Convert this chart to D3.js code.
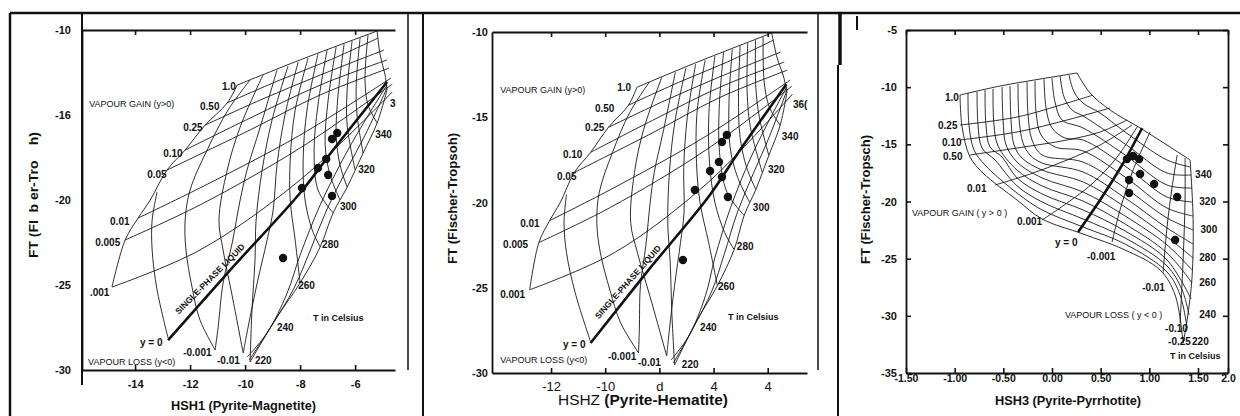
<!DOCTYPE html>
<html>
<head>
<meta charset="utf-8">
<script src="https://cdn.jsdelivr.net/npm/d3@7/dist/d3.min.js"></script>
<style>
  body { margin: 0; background: #fff; }
  svg { display: block; }
  text { font-family: "Liberation Sans", Arial, sans-serif; fill: #111; }
</style>
</head>
<body>
<svg id="chart"></svg>
<script>
// ---------- panel 1 : HSH1 (pyrite-magnetite) ----------
var p1XTicks = [-14, -12, -10, -8, -6];
var p1XLabels = ["-14", "-12", "-10", "-8", "-6"];
var p1YTicks = [-10, -15, -20, -25, -30];
var p1YLabels = ["-10", "-16", "-20", "-25", "-30"];

var p1Dots = [[-6.65,-16.06],[-6.84,-16.41],[-7.05,-17.59],[-7.35,-18.12],[-6.98,-18.53],[-7.93,-19.29],[-6.84,-19.76],[-8.62,-23.41]];

var p1Left = [[-10.29,-13.24],[-10.65,-14.29],[-11.45,-15.59],[-12.18,-17.06],[-12.84,-18.24],[-13.45,-20.0],[-13.89,-21.06],[-14.36,-22.35],[-14.84,-25.12]];
// vapour gain lines 1.0, 0.50, 0.25, 0.10, 0.05, 0.01, 0.005, 0.001
var p1Gain = [
  [[-10.29,-13.24],[-8.0,-11.76],[-5.2,-10.06]],
  [[-10.65,-14.29],[-8.73,-12.94],[-6.91,-11.76],[-5.16,-10.47]],
  [[-11.45,-15.59],[-9.45,-14.12],[-7.27,-12.65],[-4.95,-11.18]],
  [[-12.18,-17.06],[-9.82,-15.18],[-7.27,-13.24],[-4.84,-11.76]],
  [[-12.84,-18.24],[-9.82,-15.88],[-7.27,-13.82],[-4.76,-12.24]],
  [[-13.89,-21.06],[-11.64,-19.29],[-8.0,-16.18],[-4.69,-12.82]],
  [[-14.36,-22.35],[-11.64,-20.29],[-8.0,-16.94],[-4.65,-13.18]],
  [[-14.84,-25.12],[-11.64,-22.94],[-8.0,-18.82],[-4.65,-13.65]]
];
var p1Zero = [[-12.80,-28.24],[-10.44,-23.94],[-8.0,-19.59],[-6.80,-17.06],[-4.84,-13.06]];
// vapour loss side: outer edge and the steep lines next to it
var p1Loss = [
  [[-9.82,-29.53],[-8.84,-26.88],[-8.0,-24.88],[-7.27,-22.76],[-6.80,-20.76],[-6.29,-19.24],[-5.71,-17.24],[-5.20,-15.47],[-4.84,-13.53]],
  [[-9.85,-29.41],[-9.02,-27.35],[-8.22,-25.18],[-7.64,-23.0],[-7.02,-20.53],[-6.33,-18.29],[-5.60,-16.06],[-4.84,-13.41]],
  [[-9.93,-29.24],[-9.20,-27.82],[-8.47,-25.47],[-8.0,-23.24],[-7.27,-20.29],[-6.36,-17.35],[-5.45,-14.82],[-4.84,-13.24]]
];
var p1Iso = [
  [[-13.20,-19.53],[-13.38,-21.18],[-13.38,-22.94],[-13.20,-25.29],[-12.80,-28.12]],
  [[-9.82,-12.94],[-10.62,-14.71],[-11.38,-17.06],[-12.0,-19.41],[-12.18,-21.18],[-12.15,-22.94],[-11.93,-25.12],[-11.64,-27.06],[-11.09,-28.82]],
  [[-9.35,-12.65],[-10.18,-15.71],[-10.65,-18.24],[-10.95,-21.18],[-10.80,-22.94],[-10.44,-25.88],[-10.07,-29.0]],
  [[-8.84,-12.35],[-9.45,-15.71],[-9.93,-18.24],[-10.18,-20.0],[-10.47,-22.53],[-10.80,-24.88],[-10.98,-27.47],[-11.09,-28.82]],
  [[-8.44,-12.12],[-9.02,-15.29],[-9.38,-18.24],[-9.60,-21.18],[-9.64,-23.53],[-9.75,-26.47],[-9.82,-29.53]],
  [[-8.07,-11.88],[-8.55,-15.0],[-8.84,-17.94],[-8.98,-20.59],[-9.20,-22.35],[-9.56,-24.88],[-9.89,-27.47],[-10.07,-29.0]],
  [[-7.71,-11.65],[-8.18,-14.71],[-8.36,-17.65],[-8.36,-20.0],[-8.18,-22.35],[-8.0,-24.88]],
  [[-7.35,-11.41],[-7.75,-14.71],[-7.89,-17.65],[-7.82,-20.0],[-7.56,-21.76],[-7.27,-22.76]],
  [[-7.02,-11.18],[-7.35,-14.41],[-7.49,-17.06],[-7.35,-19.41],[-6.80,-20.76]],
  [[-6.69,-11.0],[-6.98,-14.12],[-7.09,-16.76],[-6.91,-18.53],[-6.55,-20.0]],
  [[-6.40,-10.82],[-6.62,-13.82],[-6.69,-16.18],[-6.55,-17.94],[-6.29,-19.24]],
  [[-6.11,-10.65],[-6.29,-13.53],[-6.29,-15.59],[-6.0,-18.24]],
  [[-5.82,-10.47],[-5.96,-13.24],[-5.93,-15.0],[-5.71,-17.24]],
  [[-5.53,-10.29],[-5.64,-12.94],[-5.53,-14.41],[-5.20,-15.47]],
  [[-5.20,-10.06],[-5.09,-11.47],[-4.91,-12.65],[-4.84,-13.53]]
];
var p1Notes = [
  ["VAPOUR GAIN (y>0)", -15.67, -14.53, "zone"],
  ["1.0", -10.84, -13.53, "num"], ["0.50", -11.64, -14.71, "num"], ["0.25", -12.25, -15.94, "num"],
  ["0.10", -12.98, -17.47, "num"], ["0.05", -13.56, -18.71, "num"], ["0.01", -14.91, -21.47, "num"],
  ["0.005", -15.45, -22.71, "num"], [".001", -15.64, -25.65, "num"],
  ["y = 0", -13.82, -28.59, "num"], ["-0.001", -12.25, -29.18, "num"], ["-0.01", -11.02, -29.65, "num"],
  ["220", -9.64, -29.65, "num"], ["240", -8.84, -27.71, "num"], ["260", -8.07, -25.24, "num"],
  ["280", -7.20, -22.82, "num"], ["300", -6.55, -20.59, "num"], ["320", -5.89, -18.41, "num"],
  ["340", -5.27, -16.35, "num"], ["3", -4.73, -14.53, "num"],
  ["T in Celsius", -7.53, -27.12, "unit"],
  ["VAPOUR LOSS (y<0)", -15.71, -29.71, "zone"],
  ["SINGLE-PHASE LIQUID", -11.2, -24.76, "sp"]
];

// ---------- panel 2 : HSH2 (pyrite-hematite) ----------
var p2XTicks = [-12, -10, -8, -6, -4];
var p2XLabels = ["-12", "-10", "d", "4", "4"];
var p2YTicks = [-10, -15, -20, -25, -30];
var p2YLabels = ["-10", "-15", "-20", "-25", "-30"];

var p2Dots = [[-5.51,-16.04],[-5.69,-16.45],[-5.80,-17.62],[-6.13,-18.15],[-5.69,-18.50],[-6.69,-19.27],[-5.47,-19.68],[-7.13,-23.37]];

var p2Left = [[-8.83,-13.24],[-9.14,-14.29],[-9.88,-15.59],[-10.54,-17.06],[-11.14,-18.24],[-11.66,-20.0],[-12.05,-21.06],[-12.45,-22.35],[-12.79,-25.12]];
var p2Gain = [
  [[-8.83,-13.24],[-6.59,-11.76],[-3.85,-10.06]],
  [[-9.14,-14.29],[-7.27,-12.94],[-5.49,-11.76],[-3.78,-10.47]],
  [[-9.88,-15.59],[-7.93,-14.12],[-5.80,-12.65],[-3.53,-11.18]],
  [[-10.54,-17.06],[-8.25,-15.18],[-5.77,-13.24],[-3.39,-11.76]],
  [[-11.14,-18.24],[-8.21,-15.88],[-5.74,-13.82],[-3.28,-12.24]],
  [[-12.05,-21.06],[-9.86,-19.29],[-6.35,-16.18],[-3.17,-12.82]],
  [[-12.45,-22.35],[-9.81,-20.29],[-6.30,-16.94],[-3.11,-13.18]],
  [[-12.79,-25.12],[-9.66,-22.94],[-6.20,-18.82],[-3.09,-13.65]]
];
var p2Zero = [[-10.54,-28.24],[-8.39,-23.94],[-6.15,-19.59],[-5.08,-17.06],[-3.31,-13.06]];
var p2Loss = [
  [[-7.44,-29.53],[-6.60,-26.88],[-5.86,-24.88],[-5.24,-22.76],[-4.87,-20.76],[-4.44,-19.24],[-3.96,-17.24],[-3.54,-15.47],[-3.29,-13.53]],
  [[-7.48,-29.41],[-6.75,-27.35],[-6.06,-25.18],[-5.60,-23.0],[-5.11,-20.53],[-4.53,-18.29],[-3.92,-16.06],[-3.29,-13.41]],
  [[-7.57,-29.24],[-6.91,-27.82],[-6.30,-25.47],[-5.95,-23.24],[-5.37,-20.29],[-4.62,-17.35],[-3.83,-14.82],[-3.30,-13.24]]
];
var p2Iso = [
  [[-11.43,-19.53],[-11.52,-21.18],[-11.43,-22.94],[-11.11,-25.29],[-10.55,-28.12]],
  [[-8.37,-12.94],[-9.09,-14.71],[-9.73,-17.06],[-10.22,-19.41],[-10.31,-21.18],[-10.18,-22.94],[-9.83,-25.12],[-9.43,-27.06],[-8.77,-28.82]],
  [[-7.91,-12.65],[-8.58,-15.71],[-8.92,-18.24],[-9.06,-21.18],[-8.81,-22.94],[-8.28,-25.88],[-7.73,-29.0]],
  [[-7.41,-12.35],[-7.84,-15.71],[-8.19,-18.24],[-8.34,-20.0],[-8.50,-22.53],[-8.70,-24.88],[-8.74,-27.47],[-8.77,-28.82]],
  [[-7.02,-12.12],[-7.43,-15.29],[-7.63,-18.24],[-7.69,-21.18],[-7.60,-23.53],[-7.54,-26.47],[-7.44,-29.53]],
  [[-6.66,-11.88],[-6.97,-15.0],[-7.10,-17.94],[-7.09,-20.59],[-7.22,-22.35],[-7.44,-24.88],[-7.63,-27.47],[-7.73,-29.0]],
  [[-6.31,-11.65],[-6.61,-14.71],[-6.63,-17.65],[-6.50,-20.0],[-6.18,-22.35],[-5.86,-24.88]],
  [[-5.95,-11.41],[-6.17,-14.71],[-6.15,-17.65],[-5.95,-20.0],[-5.59,-21.76],[-5.24,-22.76]],
  [[-5.63,-11.18],[-5.79,-14.41],[-5.78,-17.06],[-5.50,-19.41],[-4.87,-20.76]],
  [[-5.31,-11.0],[-5.43,-14.12],[-5.39,-16.76],[-5.11,-18.53],[-4.66,-20.0]],
  [[-5.02,-10.82],[-5.08,-13.82],[-5.02,-16.18],[-4.78,-17.94],[-4.44,-19.24]],
  [[-4.74,-10.65],[-4.76,-13.53],[-4.64,-15.59],[-4.20,-18.24]],
  [[-4.45,-10.47],[-4.44,-13.24],[-4.31,-15.0],[-3.96,-17.24]],
  [[-4.17,-10.29],[-4.13,-12.94],[-3.94,-14.41],[-3.54,-15.47]],
  [[-3.85,-10.06],[-3.66,-11.47],[-3.41,-12.65],[-3.29,-13.53]]
];
var p2Notes = [
  ["VAPOUR GAIN (y>0)", -13.88, -13.58, "zone"],
  ["1.0", -9.56, -13.46, "num"], ["0.50", -10.38, -14.69, "num"], ["0.25", -10.75, -15.81, "num"],
  ["0.10", -11.56, -17.39, "num"], ["0.05", -11.78, -18.68, "num"], ["0.01", -13.14, -21.44, "num"],
  ["0.005", -13.77, -22.67, "num"], ["0.001", -13.88, -25.60, "num"],
  ["y = 0", -11.56, -28.53, "num"], ["-0.001", -9.90, -29.24, "num"], ["-0.01", -8.79, -29.59, "num"],
  ["220", -7.17, -29.71, "num"], ["240", -6.50, -27.54, "num"], ["260", -5.84, -25.13, "num"],
  ["280", -5.14, -22.79, "num"], ["300", -4.55, -20.50, "num"], ["320", -3.99, -18.27, "num"],
  ["340", -3.48, -16.33, "num"], ["36(", -3.07, -14.46, "num"],
  ["T in Celsius", -5.47, -26.89, "unit"],
  ["VAPOUR LOSS (y<0)", -13.88, -29.41, "zone"],
  ["SINGLE-PHASE LIQUID", -9.08, -24.78, "sp"]
];

// ---------- panel 3 : HSH3 (pyrite-pyrrhotite) ----------
var p3XTicks = [-1.5, -1, -0.5, 0, 0.5, 1, 1.5, 2];
var p3XLabels = ["-1.50", "-1.00", "-0.50", "0.00", "0.50", "1.00", "1.50", "2.0"];
var p3YTicks = [-5, -10, -15, -20, -25, -30, -35];
var p3YLabels = ["-5", "-10", "-15", "-20", "-25", "-30", "-35"];

var p3Dots = [[0.77,-16.29],[0.833,-16.02],[0.895,-16.29],[0.792,-18.12],[0.905,-17.6],[1.049,-18.47],[0.792,-19.26],[1.286,-19.61],[1.265,-23.37]];

// gain lines 1.0, 0.25, 0.10, 0.05, 0.01, 0.001
var p3Gain = [
  [[-0.945,-10.69],[-0.534,-9.90],[-0.123,-9.29],[0.257,-8.76]],
  [[-0.945,-13.31],[-0.359,-12.61],[0.155,-11.39],[0.422,-10.69]],
  [[-0.945,-14.62],[-0.359,-13.92],[0.155,-12.87],[0.597,-11.82]],
  [[-0.842,-15.93],[-0.359,-15.32],[0.155,-14.62],[0.494,-13.92],[0.771,-12.87]],
  [[-0.585,-18.56],[-0.195,-17.51],[0.155,-16.37],[0.494,-15.06],[0.823,-13.31]],
  [[-0.102,-21.62],[0.155,-20.13],[0.422,-18.38],[0.669,-16.11],[0.874,-13.48]]
];
var p3Zero = [[0.268,-22.67],[0.494,-19.87],[0.720,-16.81],[0.926,-13.57]];
// loss lines -0.001, -0.01, -0.10, -0.25
var p3Loss = [
  [[0.617,-23.54],[0.699,-20.74],[0.833,-17.25],[1.008,-13.92]],
  [[1.141,-26.25],[1.182,-22.23],[1.234,-18.73],[1.286,-15.93]],
  [[1.316,-30.63],[1.347,-25.12],[1.367,-19.87],[1.367,-16.20]],
  [[1.347,-32.38],[1.388,-30.37],[1.439,-26.60],[1.450,-21.62],[1.419,-16.37]]
];
// isotherms 220 ... 360
var p3Iso = [
  [[-0.945,-10.69],[-0.924,-13.48],[-0.842,-16.11],[-0.709,-17.51],[-0.359,-19.87],[-0.102,-21.53],[0.319,-22.84],[0.751,-24.24],[1.110,-25.99],[1.265,-28.18],[1.347,-32.38]],
  [[-0.863,-10.51],[-0.853,-13.31],[-0.801,-15.50],[-0.688,-16.81],[-0.359,-19.26],[-0.102,-20.74],[0.319,-22.23],[0.751,-23.72],[1.182,-26.17],[1.316,-28.18],[1.388,-31.06]],
  [[-0.770,-10.42],[-0.760,-13.31],[-0.719,-15.32],[-0.585,-16.37],[-0.359,-18.64],[-0.102,-20.04],[0.319,-21.53],[0.751,-23.19],[1.182,-25.64],[1.337,-27.74],[1.408,-29.93]],
  [[-0.688,-10.25],[-0.678,-13.31],[-0.637,-15.23],[-0.513,-16.11],[-0.359,-17.94],[-0.102,-19.34],[0.319,-20.74],[0.751,-22.58],[1.182,-25.12],[1.429,-28.53]],
  [[-0.606,-10.16],[-0.596,-13.31],[-0.554,-15.15],[-0.359,-17.25],[-0.102,-18.64],[0.319,-19.96],[0.751,-21.97],[1.182,-24.50],[1.439,-27.13]],
  [[-0.513,-9.99],[-0.503,-12.87],[-0.472,-15.06],[-0.359,-16.55],[-0.102,-17.94],[0.319,-19.17],[0.751,-21.27],[1.182,-23.80],[1.439,-25.99]],
  [[-0.431,-9.90],[-0.421,-12.87],[-0.390,-15.06],[-0.308,-16.20],[-0.102,-17.25],[0.319,-18.29],[0.751,-20.48],[1.182,-23.11],[1.450,-24.94]],
  [[-0.349,-9.72],[-0.339,-12.70],[-0.298,-14.88],[-0.226,-15.93],[-0.102,-16.63],[0.319,-17.42],[0.751,-19.69],[1.182,-22.32],[1.450,-23.72]],
  [[-0.256,-9.55],[-0.246,-12.43],[-0.205,-14.62],[-0.102,-15.93],[0.319,-16.55],[0.751,-18.82],[1.182,-21.44],[1.450,-22.49]],
  [[-0.174,-9.46],[-0.164,-12.17],[-0.113,-14.18],[0.031,-15.23],[0.319,-15.58],[0.751,-17.86],[1.182,-20.57],[1.450,-21.27]],
  [[-0.082,-9.29],[-0.061,-11.82],[0.00,-13.57],[0.134,-14.45],[0.319,-14.62],[0.751,-16.90],[1.182,-19.61],[1.439,-20.04]],
  [[0.00,-9.20],[0.031,-11.30],[0.103,-12.87],[0.319,-13.57],[0.751,-15.93],[1.182,-18.56],[1.439,-18.82]],
  [[0.083,-9.02],[0.124,-10.86],[0.206,-12.00],[0.319,-12.52],[0.751,-14.97],[1.182,-17.51],[1.429,-17.68]],
  [[0.175,-8.94],[0.227,-10.42],[0.319,-11.39],[0.494,-12.26],[0.751,-13.92],[1.182,-16.37],[1.419,-16.98]],
  [[0.257,-8.76],[0.391,-10.51],[0.597,-12.00],[0.905,-13.57],[1.182,-15.06],[1.419,-16.37]]
];
var p3Notes = [
  ["1.0", -1.099, -11.21, "num"], ["0.25", -1.171, -13.66, "num"], ["0.10", -1.130, -15.15, "num"],
  ["0.50", -1.120, -16.37, "num"], ["0.01", -0.873, -19.17, "num"],
  ["VAPOUR GAIN ( y > 0 )", -1.438, -21.27, "zone"],
  ["0.001", -0.359, -22.06, "num"], ["y = 0", 0.031, -23.89, "num"], ["-0.001", 0.360, -25.12, "num"],
  ["-0.01", 0.926, -27.83, "num"],
  ["VAPOUR LOSS ( y < 0 )", 0.134, -30.19, "zone"],
  ["-0.10", 1.162, -31.41, "num"], ["-0.25", 1.193, -32.55, "num"],
  ["220", 1.439, -32.55, "num"], ["240", 1.522, -30.19, "num"], ["260", 1.522, -27.39, "num"],
  ["280", 1.522, -25.20, "num"], ["300", 1.542, -22.76, "num"], ["320", 1.522, -20.31, "num"],
  ["340", 1.470, -17.94, "num"],
  ["T in Celsius", 1.213, -33.78, "unit"]
];

// ---------- drawing ----------
var svg = d3.select("#chart").attr("width", 1240).attr("height", 416);
svg.append("rect").attr("width", 1240).attr("height", 416).attr("fill", "#fff");

var panels = [
  {
    x: d3.scaleLinear().domain([-15.93, -4.55]).range([82, 395]),
    y: d3.scaleLinear().domain([-30, -10]).range([370, 30]),
    xTicks: p1XTicks, xLabels: p1XLabels, yTicks: p1YTicks, yLabels: p1YLabels,
    thin: [p1Left].concat(p1Gain, p1Iso, p1Loss), zero: p1Zero, dots: p1Dots, notes: p1Notes,
    xPad: 10, yPad: 11, xFont: "bold", box: false
  },
  {
    x: d3.scaleLinear().domain([-14.18, -2.55]).range([492, 807]),
    y: d3.scaleLinear().domain([-30, -10]).range([373, 32]),
    xTicks: p2XTicks, xLabels: p2XLabels, yTicks: p2YTicks, yLabels: p2YLabels,
    thin: [p2Left].concat(p2Gain, p2Iso, p2Loss), zero: p2Zero, dots: p2Dots, notes: p2Notes,
    xPad: 9, yPad: 4, xFont: "serif", box: false
  },
  {
    x: d3.scaleLinear().domain([-1.5, 1.5, 2.0]).range([906, 1198, 1228]),
    y: d3.scaleLinear().domain([-35, -5]).range([373, 30]),
    xTicks: p3XTicks, xLabels: p3XLabels, yTicks: p3YTicks, yLabels: p3YLabels,
    thin: p3Gain.concat(p3Iso, p3Loss), zero: p3Zero, dots: p3Dots, notes: p3Notes,
    xPad: 2, yPad: 9, xFont: "small", box: true
  }
];

panels.forEach(function(p) {
  var line = d3.line()
    .x(d => p.x(d[0]))
    .y(d => p.y(d[1]))
    .curve(d3.curveCatmullRom.alpha(0.5));

  var g = svg.append("g");

  g.selectAll("path.grid")
    .data(p.thin)
    .join("path")
    .attr("class", "grid")
    .attr("d", line)
    .attr("fill", "none")
    .attr("stroke", "#161616")
    .attr("stroke-width", 0.9);

  g.append("path")
    .datum(p.zero)
    .attr("d", line)
    .attr("fill", "none")
    .attr("stroke", "#111")
    .attr("stroke-width", 2.6);

  g.selectAll("circle")
    .data(p.dots)
    .join("circle")
    .attr("cx", d => p.x(d[0]))
    .attr("cy", d => p.y(d[1]))
    .attr("r", 4.2)
    .attr("fill", "#111");

  // angle of the single-phase line on screen
  var z0 = p.zero[0], z1 = p.zero[1];
  var ang = Math.atan2(p.y(z1[1]) - p.y(z0[1]), p.x(z1[0]) - p.x(z0[0])) * 180 / Math.PI;

  p.notes.forEach(function(n) {
    var tx = p.x(n[1]), ty = p.y(n[2]);
    var t = g.append("text").attr("x", tx).attr("y", ty).text(n[0]);
    if (n[3] == "num") {
      t.attr("font-size", 10).attr("font-weight", "bold");
    } else if (n[3] == "zone") {
      t.attr("font-size", 9);
    } else if (n[3] == "unit") {
      t.attr("font-size", 9).attr("font-weight", "bold");
    } else if (n[3] == "sp") {
      t.attr("font-size", 8.5).attr("font-weight", "bold")
        .attr("text-anchor", "middle")
        .attr("transform", "rotate(" + (ang + 3) + "," + tx + "," + ty + ")");
    }
  });

  // axes
  var yb = p.y.range()[0], yt = p.y.range()[1];
  var xl = p.x.range()[0], xr = p.x.range()[p.x.range().length - 1];

  var xAxis = svg.append("g")
    .attr("transform", "translate(0," + yb + ")")
    .call(d3.axisBottom(p.x).tickValues(p.xTicks).tickFormat((d, i) => p.xLabels[i])
      .tickSizeInner(-5).tickSizeOuter(0).tickPadding(p.xPad));
  xAxis.selectAll("text")
    .attr("font-family", p.xFont == "serif" ? "'Liberation Serif', 'Times New Roman', serif" : "'Liberation Sans', Arial, sans-serif")
    .attr("font-weight", p.xFont == "serif" ? "normal" : "bold")
    .attr("font-size", p.xFont == "serif" ? 13 : (p.xFont == "small" ? 10.5 : 11));

  svg.append("g")
    .attr("transform", "translate(0," + yt + ")")
    .call(d3.axisTop(p.x).tickValues(p.xTicks).tickFormat("").tickSizeInner(-5).tickSizeOuter(0));

  var yAxis = svg.append("g")
    .attr("transform", "translate(" + xl + ",0)")
    .call(d3.axisLeft(p.y).tickValues(p.yTicks).tickFormat((d, i) => p.yLabels[i])
      .tickSizeInner(p.box ? -5 : 0).tickSizeOuter(0).tickPadding(p.yPad));
  yAxis.selectAll("text")
    .attr("font-family", "'Liberation Sans', Arial, sans-serif")
    .attr("font-weight", "bold")
    .attr("font-size", 11);

  if (p.box) {
    svg.append("g")
      .attr("transform", "translate(" + xr + ",0)")
      .call(d3.axisRight(p.y).tickValues(p.yTicks).tickFormat("").tickSizeInner(-5).tickSizeOuter(0));
  }

  svg.selectAll(".domain").attr("stroke", "#111").attr("stroke-width", 1.8);
  svg.selectAll(".tick line").attr("stroke", "#111").attr("stroke-width", 1.6);
});

// axis titles
function title(txt, x, y, len, size, rot) {
  var t = svg.append("text")
    .attr("x", 0).attr("y", 0)
    .attr("transform", "translate(" + x + "," + y + ")" + (rot ? " rotate(-90)" : ""))
    .attr("font-size", size)
    .attr("font-weight", "bold")
    .attr("textLength", len)
    .attr("lengthAdjust", "spacingAndGlyphs")
    .style("white-space", "pre")
    .text(txt);
  return t;
}
title("HSH1 (Pyrite-Magnetite)", 171, 410, 145, 13, false);
title("FT (Fl  b er-Tro    h)", 38, 258, 126, 13, true);
title("FT (Fischer-Tropsoh)", 457, 264, 131, 13, true);
title("FT (Fischer-Tropsch)", 870, 264, 129, 13, true);
title("HSH3 (Pyrite-Pyrrhotite)", 995, 405, 146, 13, false);

var t2 = svg.append("text")
  .attr("x", 558).attr("y", 405)
  .attr("font-size", 14)
  .attr("textLength", 170)
  .attr("lengthAdjust", "spacingAndGlyphs");
t2.append("tspan").text("HSHZ");
t2.append("tspan").attr("font-weight", "bold").text(" (Pyrite-Hematite)");

// scan frame lines
var frame = [
  [10, 13, 1240, 13, 2.5], [10, 13, 10, 416, 2.5],
  [82, 13, 82, 385, 2], [408, 13, 408, 370, 1.5],
  [423, 13, 423, 416, 2], [818, 13, 818, 370, 1.5],
  [838, 65, 838, 416, 2], [840, 13, 840, 65, 3.5], [857, 16, 857, 30, 2]
];
svg.selectAll("line.frame")
  .data(frame)
  .join("line")
  .attr("class", "frame")
  .attr("x1", d => d[0]).attr("y1", d => d[1])
  .attr("x2", d => d[2]).attr("y2", d => d[3])
  .attr("stroke", "#111")
  .attr("stroke-width", d => d[4]);
</script>
</body>
</html>
